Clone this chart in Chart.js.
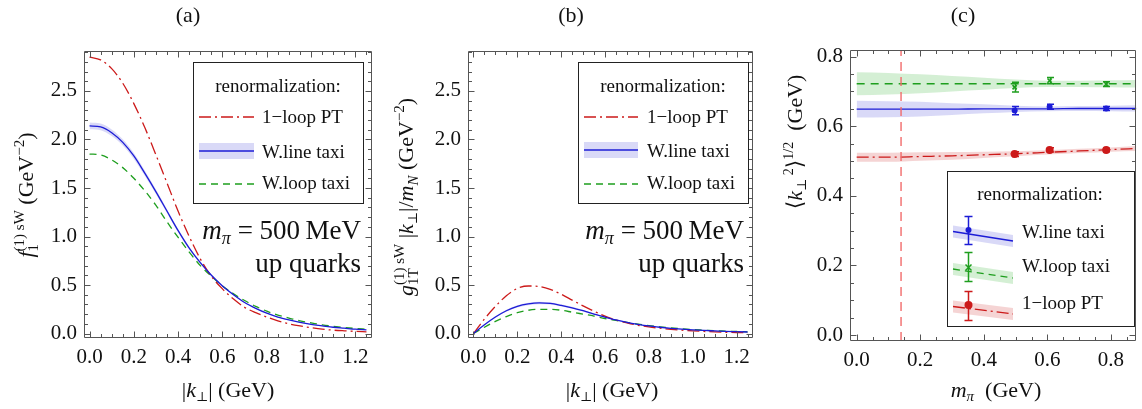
<!DOCTYPE html>
<html>
<head>
<meta charset="utf-8">
<title>k-perp moments, m_pi = 500 MeV</title>
<script src="https://cdn.jsdelivr.net/npm/chart.js@4.4.1/dist/chart.umd.min.js"></script>
<style>
  body { margin: 0; background: #fff; }
  #wrap { position: relative; width: 1142px; height: 409px; overflow: hidden; }
  #wrap canvas { position: absolute; top: 0; }
</style>
</head>
<body>
<div id="wrap">
  <canvas id="chart-a" width="380" height="409" style="left:0"></canvas>
  <canvas id="chart-b" width="380" height="409" style="left:380px"></canvas>
  <canvas id="chart-c" width="382" height="409" style="left:760px"></canvas>
</div>
<script>
// values (up quarks, m_pi = 500 MeV)

const kPerp = [0, 0.05, 0.1, 0.15, 0.2, 0.25, 0.3, 0.35, 0.4, 0.45, 0.5, 0.55, 0.6, 0.65,
               0.7, 0.75, 0.8, 0.85, 0.9, 0.95, 1.0, 1.05, 1.1, 1.15, 1.2, 1.25];

// (a) f1 first moment
const f1LoopPT   = [2.85, 2.82, 2.73, 2.58, 2.37, 2.12, 1.84, 1.55, 1.26, 1.00, 0.77, 0.59, 0.46, 0.355,
                    0.27, 0.215, 0.17, 0.13, 0.10, 0.078, 0.06, 0.045, 0.035, 0.028, 0.022, 0.018];
const f1LineTaxi = [2.14, 2.13, 2.07, 1.97, 1.83, 1.65, 1.46, 1.26, 1.06, 0.88, 0.73, 0.60, 0.49, 0.40,
                    0.32, 0.26, 0.21, 0.17, 0.14, 0.115, 0.095, 0.08, 0.065, 0.055, 0.045, 0.038];
const f1LineTaxiErr = [0.035, 0.035, 0.034, 0.032, 0.03, 0.027, 0.024, 0.021, 0.018, 0.015, 0.012, 0.01, 0.008,
                       0.007, 0.006, 0.005, 0.004, 0.004, 0.003, 0.003, 0.003, 0.002, 0.002, 0.002, 0.002, 0.002];
const f1LoopTaxi = [1.85, 1.84, 1.79, 1.71, 1.60, 1.47, 1.32, 1.15, 0.99, 0.84, 0.70, 0.59, 0.49, 0.41,
                    0.34, 0.28, 0.23, 0.19, 0.16, 0.13, 0.11, 0.09, 0.075, 0.062, 0.052, 0.044];

// (b) g1T first moment times |k|/m_N
const g1LoopPT   = [0, 0.15, 0.28, 0.39, 0.465, 0.49, 0.485, 0.455, 0.405, 0.345, 0.285, 0.23, 0.18, 0.14,
                    0.11, 0.085, 0.068, 0.055, 0.044, 0.035, 0.028, 0.022, 0.017, 0.013, 0.01, 0.008];
const g1LineTaxi = [0, 0.09, 0.17, 0.235, 0.28, 0.305, 0.315, 0.31, 0.29, 0.265, 0.235, 0.2, 0.17, 0.14,
                    0.115, 0.095, 0.078, 0.065, 0.054, 0.045, 0.038, 0.032, 0.027, 0.022, 0.019, 0.016];
const g1LineTaxiErr = [0, 0.005, 0.008, 0.01, 0.012, 0.013, 0.013, 0.012, 0.011, 0.01, 0.008, 0.007, 0.006,
                       0.005, 0.004, 0.004, 0.003, 0.003, 0.003, 0.002, 0.002, 0.002, 0.002, 0.002, 0.002, 0.002];
const g1LoopTaxi = [0, 0.065, 0.125, 0.175, 0.215, 0.24, 0.25, 0.25, 0.24, 0.22, 0.2, 0.18, 0.155, 0.135,
                    0.115, 0.097, 0.082, 0.069, 0.058, 0.049, 0.041, 0.035, 0.029, 0.025, 0.021, 0.018];

// (c) rms k-perp vs pion mass: chiral fits and lattice points
const mPiFit         = [0, 0.1, 0.2, 0.3, 0.4, 0.5, 0.6, 0.7, 0.8, 0.88];
const rmsLineTaxi    = [0.649, 0.649, 0.649, 0.649, 0.65, 0.65, 0.65, 0.651, 0.651, 0.651];
const rmsLineTaxiErr = [0.024, 0.023, 0.021, 0.017, 0.013, 0.009, 0.007, 0.007, 0.008, 0.009];
const rmsLoopTaxi    = [0.722, 0.722, 0.722, 0.722, 0.722, 0.722, 0.722, 0.722, 0.722, 0.722];
const rmsLoopTaxiErr = [0.033, 0.031, 0.027, 0.022, 0.017, 0.012, 0.009, 0.009, 0.01, 0.011];
const rmsLoopPT      = [0.511, 0.511, 0.513, 0.515, 0.518, 0.521, 0.525, 0.529, 0.533, 0.536];
const rmsLoopPTErr   = [0.013, 0.013, 0.012, 0.011, 0.009, 0.007, 0.006, 0.006, 0.006, 0.007];

const mPiLattice     = [0.497, 0.607, 0.785];
const latLineTaxi    = [0.645, 0.656, 0.651];
const latLineTaxiErr = [0.012, 0.007, 0.006];
const latLoopTaxi    = [0.712, 0.731, 0.721];
const latLoopTaxiErr = [0.014, 0.009, 0.007];
const latLoopPT      = [0.520, 0.532, 0.532];
const latLoopPTErr   = [0.007, 0.006, 0.005];
const mPiPhys = 0.1396;

// tick labels
const kTicks   = [0, 0.2, 0.4, 0.6, 0.8, 1.0, 1.2];
const fTicks   = [0, 0.5, 1.0, 1.5, 2.0, 2.5];
const mTicks   = [0, 0.2, 0.4, 0.6, 0.8];
const rmsTicks = [0, 0.2, 0.4, 0.6, 0.8];

const SERIF = '"Liberation Serif", "DejaVu Serif", "DejaVu Sans", serif';
const RED = '#cc1a1a', BLUE = '#1c1cd6', GREEN = '#1e9e1e';
const RED_BAND = 'rgba(210,60,60,0.22)', BLUE_BAND = 'rgba(80,80,220,0.22)', GREEN_BAND = 'rgba(60,180,60,0.22)';
const DASH_DOT = [12, 4, 2, 4], DASHED = [7, 5];

const xy = (xs, ys) => xs.map((x, i) => ({ x, y: ys[i] }));
const shift = (ys, es, s) => ys.map((v, i) => v + s * es[i]);

function curve(xs, ys, color, dash, order) {
  return { data: xy(xs, ys), borderColor: color, borderWidth: 1.3, borderDash: dash,
           pointRadius: 0, fill: false, cubicInterpolationMode: 'monotone', order: order || 2 };
}

function band(xs, ys, es, color) {
  const edge = { borderColor: 'transparent', borderWidth: 0, pointRadius: 0,
                 cubicInterpolationMode: 'monotone', order: 10 };
  return [
    Object.assign({ data: xy(xs, shift(ys, es, 1)), fill: false }, edge),
    Object.assign({ data: xy(xs, shift(ys, es, -1)), fill: '-1', backgroundColor: color }, edge)
  ];
}

function marks(xs, ys, color, style, r) {
  return { data: xy(xs, ys), showLine: false, pointStyle: style, pointRadius: r,
           pointBackgroundColor: color, pointBorderColor: color, pointBorderWidth: style === 'crossRot' ? 1.6 : 0,
           order: 0 };
}

function makeOptions(xr, yr, xTicks, yTicks, fit) {
  const tickFont = { family: SERIF, size: 21 };
  return {
    responsive: false,
    animation: false,
    events: [],
    layout: { padding: { top: fit.top, right: fit.right, left: 0, bottom: 0 } },
    plugins: { legend: { display: false }, tooltip: { enabled: false }, title: { display: false } },
    scales: {
      x: {
        type: 'linear', min: xr[0], max: xr[1],
        grid: { display: false, drawTicks: false }, border: { display: false },
        afterBuildTicks: s => { s.ticks = xTicks.map(value => ({ value })); },
        afterFit: s => { s.height = fit.xh; },
        ticks: { padding: 7, color: '#111', font: tickFont, maxRotation: 0, autoSkip: false,
                 callback: v => Number(v).toFixed(1) }
      },
      y: {
        type: 'linear', min: yr[0], max: yr[1],
        grid: { display: false, drawTicks: false }, border: { display: false },
        afterBuildTicks: s => { s.ticks = yTicks.map(value => ({ value })); },
        afterFit: s => { s.width = fit.yw; },
        ticks: { padding: 7, color: '#111', font: tickFont, callback: v => Number(v).toFixed(1) }
      }
    }
  };
}

// frame with inward major/minor ticks on all four sides (Mathematica style)
function framePlugin(xMajor, xMinor, yMajor, yMinor) {
  return {
    id: 'frame',
    afterDatasetsDraw(chart) {
      const { ctx, chartArea: a, scales: { x, y } } = chart;
      const L = Math.round(a.left) + 0.5, R = Math.round(a.right) - 0.5;
      const T = Math.round(a.top) + 0.5, B = Math.round(a.bottom) - 0.5;
      const major = (v, step) => Math.abs(v / step - Math.round(v / step)) < 1e-6;
      ctx.save();
      ctx.strokeStyle = '#555';
      ctx.lineWidth = 1;
      ctx.beginPath();
      ctx.rect(L, T, R - L, B - T);
      for (let i = Math.ceil(x.min / xMinor - 1e-9); i * xMinor <= x.max + 1e-9; i++) {
        const v = i * xMinor, px = Math.round(x.getPixelForValue(v)) + 0.5;
        const len = major(v, xMajor) ? 6 : 3.5;
        ctx.moveTo(px, B); ctx.lineTo(px, B - len);
        ctx.moveTo(px, T); ctx.lineTo(px, T + len);
      }
      for (let i = Math.ceil(y.min / yMinor - 1e-9); i * yMinor <= y.max + 1e-9; i++) {
        const v = i * yMinor, py = Math.round(y.getPixelForValue(v)) + 0.5;
        const len = major(v, yMajor) ? 6 : 3.5;
        ctx.moveTo(L, py); ctx.lineTo(L + len, py);
        ctx.moveTo(R, py); ctx.lineTo(R - len, py);
      }
      ctx.stroke();
      ctx.restore();
    }
  };
}

// text with sub/superscripts; parts: {t, s: size, i: italic, dy, back: stack under previous}
function richText(ctx, parts, x, y, align, rotate) {
  let cur = 0, baseStart = 0, baseEnd = 0;
  const placed = [];
  for (const p of parts) {
    const font = (p.i ? 'italic ' : '') + p.s + 'px ' + SERIF;
    ctx.font = font;
    const w = ctx.measureText(p.t).width;
    const sx = p.back ? baseStart : cur;
    placed.push({ p, sx, font });
    if (p.back) cur = Math.max(baseEnd, sx + w);
    else { baseStart = sx; baseEnd = sx + w; cur = sx + w; }
  }
  const off = align === 'center' ? -cur / 2 : align === 'right' ? -cur : 0;
  ctx.save();
  ctx.translate(x, y);
  if (rotate) ctx.rotate(-Math.PI / 2);
  ctx.fillStyle = '#111';
  ctx.textAlign = 'left';
  ctx.textBaseline = 'alphabetic';
  for (const q of placed) {
    ctx.font = q.font;
    ctx.fillText(q.p.t, q.sx + off, q.p.dy || 0);
  }
  ctx.restore();
}

function hline(ctx, x0, x1, y, color, dash) {
  ctx.save();
  ctx.strokeStyle = color;
  ctx.lineWidth = 1.3;
  ctx.setLineDash(dash);
  ctx.beginPath();
  ctx.moveTo(x0, y); ctx.lineTo(x1, y);
  ctx.stroke();
  ctx.restore();
}

function legendBox(ctx, x0, y0, x1, y1) {
  ctx.save();
  ctx.fillStyle = '#fff';
  ctx.fillRect(x0, y0, x1 - x0, y1 - y0);
  ctx.strokeStyle = '#222';
  ctx.lineWidth = 1;
  ctx.strokeRect(x0 + 0.5, y0 + 0.5, x1 - x0, y1 - y0);
  ctx.restore();
}

function curveLegend(ctx, o) {
  legendBox(ctx, o.x0, o.y0, o.x1, o.y1);
  richText(ctx, [{ t: 'renormalization:', s: 19 }], o.titleX, o.y0 + 30, 'center');
  const [r1, r2, r3] = o.rows;
  hline(ctx, o.sx0, o.sx1, r1, RED, DASH_DOT);
  ctx.fillStyle = BLUE_BAND;
  ctx.fillRect(o.sx0, r2 - 8, o.sx1 - o.sx0, 16);
  hline(ctx, o.sx0, o.sx1, r2, BLUE, []);
  hline(ctx, o.sx0, o.sx1, r3, GREEN, DASHED);
  richText(ctx, [{ t: '1\u2212loop PT', s: 19 }], o.tx, r1 + 6, 'left');
  richText(ctx, [{ t: 'W.line taxi', s: 19 }], o.tx, r2 + 7, 'left');
  richText(ctx, [{ t: 'W.loop taxi', s: 19 }], o.tx, r3 + 5, 'left');
}

function mPiNote(ctx, xr) {
  richText(ctx, [{ t: 'm', s: 27, i: 1 }, { t: '\u03c0', s: 18, i: 1, dy: 5 },
                 { t: ' = 500\u2009MeV', s: 27 }], xr, 239, 'right');
  richText(ctx, [{ t: 'up quarks', s: 27 }], xr, 272, 'right');
}

const kTitle = [{ t: '|', s: 22 }, { t: 'k', s: 22, i: 1 }, { t: '\u22a5', s: 13, dy: 4 },
                { t: '| (GeV)', s: 22 }];

new Chart(document.getElementById('chart-a'), {
  type: 'line',
  data: { datasets: [
    ...band(kPerp, f1LineTaxi, f1LineTaxiErr, BLUE_BAND),
    curve(kPerp, f1LoopPT, RED, DASH_DOT),
    curve(kPerp, f1LoopTaxi, GREEN, DASHED),
    curve(kPerp, f1LineTaxi, BLUE, [], 1)
  ] },
  options: makeOptions([-0.025, 1.275], [-0.046, 2.912], kTicks, fTicks, { top: 51, right: 8, xh: 71, yw: 84 }),
  plugins: [framePlugin(0.2, 0.05, 0.5, 0.1), {
    id: 'notesA',
    afterDraw(chart) {
      const ctx = chart.ctx;
      richText(ctx, [{ t: '(a)', s: 22 }], 188, 22, 'center');
      richText(ctx, [{ t: 'f', s: 22, i: 1 }, { t: '1', s: 15, dy: 5 }, { t: '(1) sW', s: 15, dy: -9, back: 1 },
                     { t: ' (GeV', s: 22 }, { t: '\u22122', s: 15, dy: -9 }, { t: ')', s: 22 }], 33, 195, 'center', true);
      richText(ctx, kTitle, 228, 397, 'center');
      curveLegend(ctx, { x0: 193, y0: 62, x1: 363, y1: 203, titleX: 278, sx0: 199, sx1: 254, tx: 262,
                         rows: [117, 151, 184] });
      mPiNote(ctx, 361);
    }
  }]
});

new Chart(document.getElementById('chart-b'), {
  type: 'line',
  data: { datasets: [
    ...band(kPerp, g1LineTaxi, g1LineTaxiErr, BLUE_BAND),
    curve(kPerp, g1LoopPT, RED, DASH_DOT),
    curve(kPerp, g1LoopTaxi, GREEN, DASHED),
    curve(kPerp, g1LineTaxi, BLUE, [], 1)
  ] },
  options: makeOptions([-0.025, 1.275], [-0.046, 2.912], kTicks, fTicks, { top: 51, right: 7, xh: 71, yw: 88 }),
  plugins: [framePlugin(0.2, 0.05, 0.5, 0.1), {
    id: 'notesB',
    afterDraw(chart) {
      const ctx = chart.ctx;
      richText(ctx, [{ t: '(b)', s: 22 }], 191, 22, 'center');
      richText(ctx, [{ t: 'g', s: 22, i: 1 }, { t: '1T', s: 15, dy: 5 }, { t: '(1) sW', s: 15, dy: -9, back: 1 },
                     { t: ' |', s: 22 }, { t: 'k', s: 22, i: 1 }, { t: '\u22a5', s: 13, dy: 4 },
                     { t: '|/', s: 22 }, { t: 'm', s: 22, i: 1 }, { t: 'N', s: 15, i: 1, dy: 5 },
                     { t: ' (GeV', s: 22 }, { t: '\u22122', s: 15, dy: -9 }, { t: ')', s: 22 }], 33, 197, 'center', true);
      richText(ctx, kTitle, 232, 397, 'center');
      curveLegend(ctx, { x0: 198, y0: 62, x1: 368, y1: 203, titleX: 283, sx0: 204, sx1: 258, tx: 267,
                         rows: [117, 150, 184] });
      mPiNote(ctx, 364);
    }
  }]
});

// error bars for the lattice points, drawn through the chart scales
const latSeries = [
  { ys: latLoopTaxi, es: latLoopTaxiErr, color: GREEN },
  { ys: latLineTaxi, es: latLineTaxiErr, color: BLUE },
  { ys: latLoopPT, es: latLoopPTErr, color: RED }
];

function fitLegend(ctx) {
  legendBox(ctx, 187, 171, 374, 326);
  richText(ctx, [{ t: 'renormalization:', s: 19 }], 280, 200, 'center');
  const rows = [
    { c0: 231.5, c1: 241, bar: [216, 245], my: 230, color: BLUE, fill: BLUE_BAND, dash: [], mk: 'dot', text: 'W.line taxi', base: 238 },
    { c0: 269, c1: 278, bar: [252, 282], my: 267, color: GREEN, fill: GREEN_BAND, dash: DASHED, mk: 'cross', text: 'W.loop taxi', base: 272 },
    { c0: 306.5, c1: 314, bar: [291, 321], my: 305, color: RED, fill: RED_BAND, dash: DASH_DOT, mk: 'disc', text: '1\u2212loop PT', base: 309 }
  ];
  const x0 = 193, x1 = 253, xb = 208;
  for (const r of rows) {
    ctx.save();
    ctx.fillStyle = r.fill;
    ctx.beginPath();
    ctx.moveTo(x0, r.c0 - 6);
    ctx.lineTo(x1, r.c1 - 6);
    ctx.lineTo(x1, r.c1 + 6);
    ctx.lineTo(x0, r.c0 + 6);
    ctx.closePath();
    ctx.fill();
    ctx.strokeStyle = r.color;
    ctx.lineWidth = 1.3;
    ctx.setLineDash(r.dash);
    ctx.beginPath();
    ctx.moveTo(x0, r.c0); ctx.lineTo(x1, r.c1);
    ctx.stroke();
    ctx.setLineDash([]);
    ctx.lineWidth = 1.5;
    ctx.beginPath();
    ctx.moveTo(xb + 0.5, r.bar[0]); ctx.lineTo(xb + 0.5, r.bar[1]);
    ctx.moveTo(xb - 3.5, r.bar[0] + 0.5); ctx.lineTo(xb + 4.5, r.bar[0] + 0.5);
    ctx.moveTo(xb - 3.5, r.bar[1] - 0.5); ctx.lineTo(xb + 4.5, r.bar[1] - 0.5);
    ctx.stroke();
    ctx.fillStyle = r.color;
    if (r.mk === 'cross') {
      ctx.beginPath();
      ctx.moveTo(xb - 2.5, r.my - 2.5); ctx.lineTo(xb + 3.5, r.my + 3.5);
      ctx.moveTo(xb + 3.5, r.my - 2.5); ctx.lineTo(xb - 2.5, r.my + 3.5);
      ctx.stroke();
    } else {
      ctx.beginPath();
      ctx.arc(xb + 0.5, r.my, r.mk === 'disc' ? 4 : 3, 0, Math.PI * 2);
      ctx.fill();
    }
    ctx.restore();
    richText(ctx, [{ t: r.text, s: 19 }], 262, r.base, 'left');
  }
}

new Chart(document.getElementById('chart-c'), {
  type: 'line',
  data: { datasets: [
    ...band(mPiFit, rmsLoopTaxi, rmsLoopTaxiErr, GREEN_BAND),
    ...band(mPiFit, rmsLineTaxi, rmsLineTaxiErr, BLUE_BAND),
    ...band(mPiFit, rmsLoopPT, rmsLoopPTErr, RED_BAND),
    curve(mPiFit, rmsLoopTaxi, GREEN, [8, 6], 5),
    curve(mPiFit, rmsLineTaxi, BLUE, [], 5),
    curve(mPiFit, rmsLoopPT, RED, DASH_DOT, 5),
    { data: [{ x: mPiPhys, y: -0.017 }, { x: mPiPhys, y: 0.819 }], borderColor: '#f26a6a', borderWidth: 1.4,
      borderDash: [9, 6], pointRadius: 0, fill: false, order: 4 },
    marks(mPiLattice, latLoopTaxi, GREEN, 'crossRot', 3),
    marks(mPiLattice, latLineTaxi, BLUE, 'circle', 3),
    marks(mPiLattice, latLoopPT, RED, 'circle', 4)
  ] },
  options: makeOptions([-0.021, 0.88], [-0.017, 0.819], mTicks, rmsTicks, { top: 50, right: 1, xh: 68, yw: 90 }),
  plugins: [{
    id: 'errorBars',
    afterDatasetsDraw(chart) {
      const { ctx, scales: { x, y } } = chart;
      ctx.save();
      ctx.lineWidth = 1.5;
      for (const s of latSeries) {
        ctx.strokeStyle = s.color;
        ctx.beginPath();
        mPiLattice.forEach((m, i) => {
          const px = Math.round(x.getPixelForValue(m)) + 0.5;
          const yt = y.getPixelForValue(s.ys[i] + s.es[i]), yb = y.getPixelForValue(s.ys[i] - s.es[i]);
          ctx.moveTo(px, yt); ctx.lineTo(px, yb);
          ctx.moveTo(px - 3.5, yt); ctx.lineTo(px + 3.5, yt);
          ctx.moveTo(px - 3.5, yb); ctx.lineTo(px + 3.5, yb);
        });
        ctx.stroke();
      }
      ctx.restore();
    }
  }, framePlugin(0.2, 0.05, 0.2, 0.05), {
    id: 'notesC',
    afterDraw(chart) {
      const ctx = chart.ctx;
      richText(ctx, [{ t: '(c)', s: 22 }], 203, 22, 'center');
      richText(ctx, [{ t: '\u27e8', s: 22 }, { t: 'k', s: 22, i: 1 }, { t: '\u22a5', s: 13, dy: 4 },
                     { t: ' 2', s: 14, dy: -9 }, { t: '\u27e9', s: 22 }, { t: '1/2', s: 14, dy: -9 },
                     { t: '  (GeV)', s: 22 }], 42, 142, 'center', true);
      richText(ctx, [{ t: 'm', s: 22, i: 1 }, { t: '\u03c0', s: 15, i: 1, dy: 4 }, { t: '  (GeV)', s: 22 }],
               236, 397, 'center');
      fitLegend(ctx);
    }
  }]
});
</script>
</body>
</html>
